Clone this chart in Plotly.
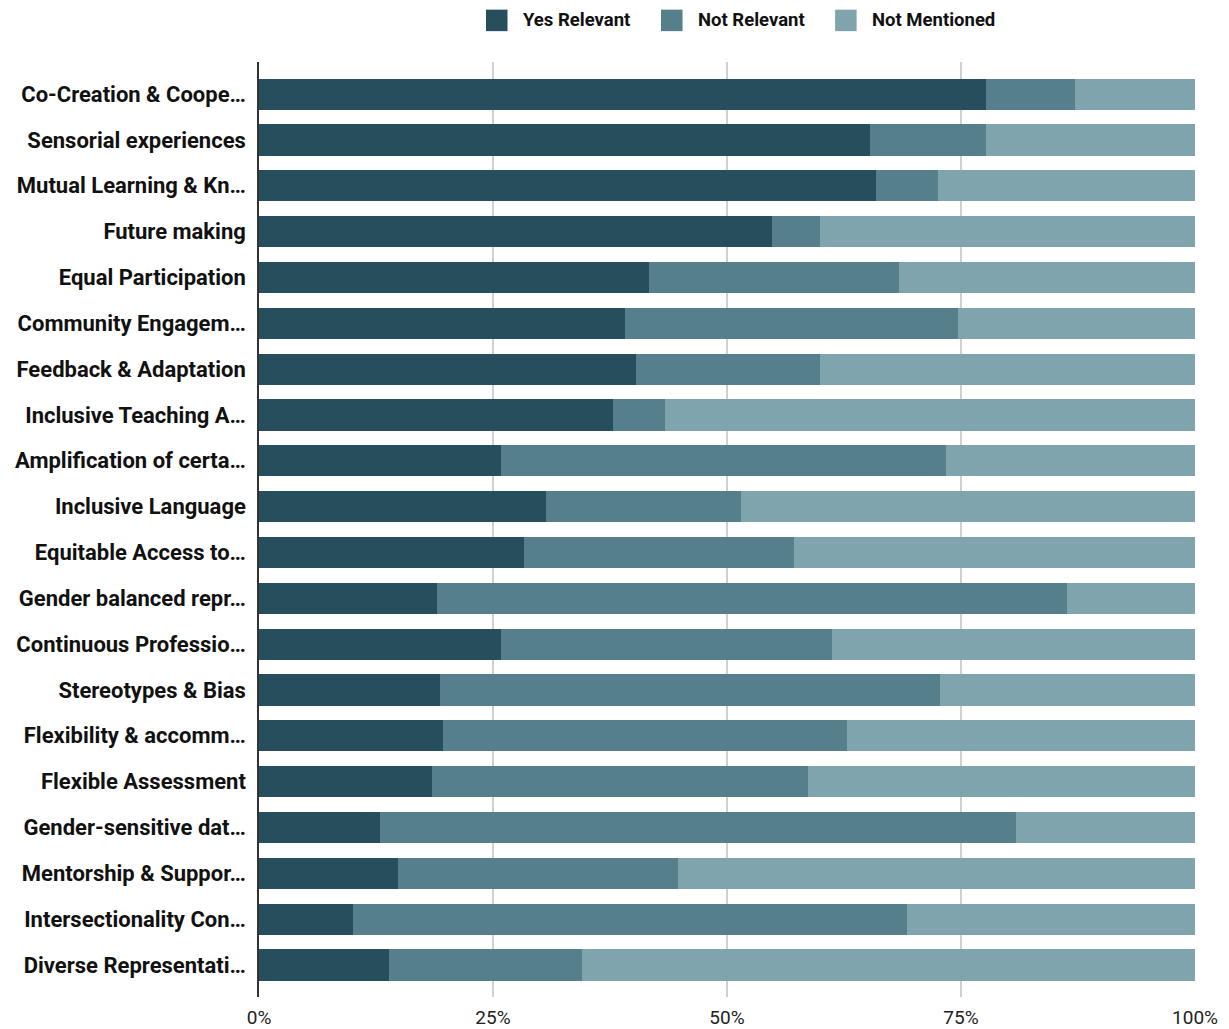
import plotly.graph_objects as go

categories = [
    "Co-Creation & Coope…",
    "Sensorial experiences",
    "Mutual Learning & Kn…",
    "Future making",
    "Equal Participation",
    "Community Engagem…",
    "Feedback & Adaptation",
    "Inclusive Teaching A…",
    "Amplification of certa…",
    "Inclusive Language",
    "Equitable Access to…",
    "Gender balanced repr…",
    "Continuous Professio…",
    "Stereotypes & Bias",
    "Flexibility & accomm…",
    "Flexible Assessment",
    "Gender-sensitive dat…",
    "Mentorship & Suppor…",
    "Intersectionality Con…",
    "Diverse Representati…",
]

yes_relevant = [77.7, 65.3, 65.9, 54.8, 41.7, 39.1, 40.3, 37.8, 25.9, 30.7,
                28.3, 19.0, 25.9, 19.3, 19.7, 18.5, 12.9, 14.8, 10.0, 13.9]
not_relevant = [9.5, 12.4, 6.6, 5.1, 26.7, 35.6, 19.6, 5.6, 47.5, 20.8,
                28.9, 67.3, 35.3, 53.5, 43.1, 40.2, 68.0, 30.0, 59.2, 20.6]
not_mentioned = [12.8, 22.3, 27.5, 40.1, 31.6, 25.3, 40.1, 56.6, 26.6, 48.5,
                 42.8, 13.7, 38.8, 27.2, 37.2, 41.3, 19.1, 55.2, 30.8, 65.5]

series_names = ["Yes Relevant", "Not Relevant", "Not Mentioned"]
colors = ["#274e5c", "#557f8b", "#7fa4ad"]
x_ticks = [0, 25, 50, 75, 100]
x_tick_labels = ["0%", "25%", "50%", "75%", "100%"]

FONT = "Roboto, Arial, sans-serif"

fig = go.Figure()
for name, vals, col in zip(series_names, [yes_relevant, not_relevant, not_mentioned], colors):
    fig.add_trace(go.Bar(
        y=categories, x=vals, name=name, orientation="h",
        marker=dict(color=col, line=dict(width=0)),
        showlegend=False,
    ))

# custom legend (large squares)
legend_pos = [(0.2425, 0.2800), (0.4295, 0.4670), (0.6155, 0.6530)]
for (sx, tx), name, col in zip(legend_pos, series_names, colors):
    fig.add_shape(type="rect", xref="paper", yref="paper",
                  x0=sx, x1=sx + 0.0230, y0=1.0330, y1=1.0560,
                  fillcolor=col, line=dict(width=0))
    fig.add_annotation(x=tx, y=1.0445, xref="paper", yref="paper",
                       text=name, showarrow=False, xanchor="left", yanchor="middle",
                       font=dict(family=FONT, size=18.5, color="#111111", weight="bold"))

fig.update_layout(
    barmode="stack",
    bargap=0.32,
    width=1229, height=1029,
    margin=dict(l=259, r=34, t=62, b=32),
    plot_bgcolor="white", paper_bgcolor="white",
    xaxis=dict(
        range=[0, 100], tickvals=x_ticks, ticktext=x_tick_labels,
        showgrid=True, gridcolor="#d0d0d0", gridwidth=1.5,
        zeroline=False, showline=False, ticks="",
        tickfont=dict(family=FONT, size=19, color="#222222"),
        ticklabelstandoff=7, automargin=False,
    ),
    yaxis=dict(
        categoryorder="array", categoryarray=categories,
        range=[19.7, -0.7],
        showgrid=False, zeroline=False,
        showline=True, linecolor="#333333", linewidth=1.5,
        ticks="", ticklabelstandoff=7, automargin=False,
        tickfont=dict(family=FONT, size=22, color="#111111", weight="bold"),
    ),
)

fig.write_html("out.html")
